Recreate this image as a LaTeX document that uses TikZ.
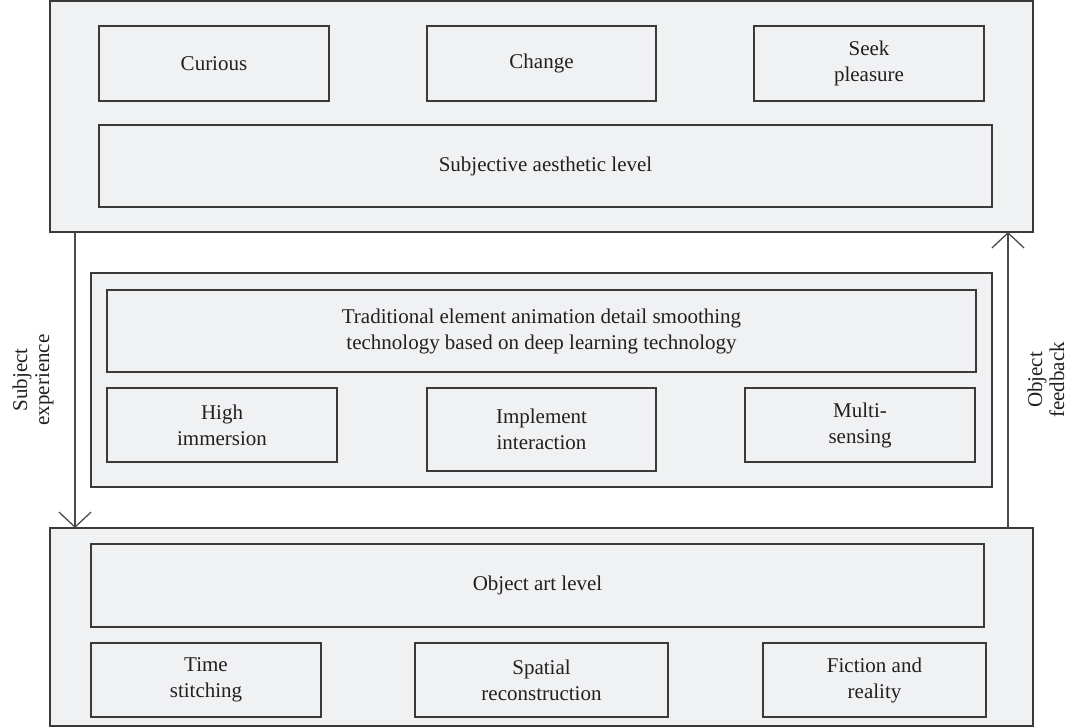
\documentclass[tikz,border=0pt]{standalone}
\usepackage{fontspec}
\setmainfont{Liberation Serif}
\usetikzlibrary{arrows.meta}
\definecolor{boxfill}{HTML}{F0F1F3}
\definecolor{edgecol}{HTML}{3A3A3A}
\definecolor{txtcol}{HTML}{231F20}
\definecolor{arrcol}{HTML}{4A4A4A}
\tikzset{
  panel/.style={draw=edgecol, fill=boxfill, line width=1.3pt, inner sep=0pt, outer sep=0pt},
  item/.style={panel, text=txtcol, align=center, font=\fontsize{21}{26}\selectfont},
  lbl/.style={text=txtcol, align=center, font=\fontsize{21}{22}\selectfont, inner sep=0pt},
  conn/.style={draw=arrcol, line width=1.3pt, -{Straight Barb[length=15pt, width=32pt, line width=1.3pt]}},
}
\begin{document}
\begin{tikzpicture}[x=1pt, y=-1pt]
\useasboundingbox (0,0) rectangle (1071,727);
% top panel
\node[panel, minimum width=983pt, minimum height=231pt] (topbox) at (541.5,116.5) {};
\node[item, minimum width=230pt, minimum height=75pt] (curious) at (214,63.5) {Curious};
\node[item, minimum width=229pt, minimum height=75pt] (change) at (541.5,63.5) {Change};
\node[item, minimum width=230pt, minimum height=75pt] (seek) at (869,63.5) {Seek\\pleasure};
\node[item, minimum width=893pt, minimum height=82pt] (subj) at (545.5,166) {Subjective aesthetic level};
% middle panel
\node[panel, minimum width=901pt, minimum height=214pt] (midbox) at (541.5,380) {};
\node[item, minimum width=869pt, minimum height=82pt] (trad) at (541.5,331) {Traditional element animation detail smoothing\\technology based on deep learning technology};
\node[item, minimum width=230pt, minimum height=74pt] (high) at (222,425) {High\\immersion};
\node[item, minimum width=229pt, minimum height=83pt] (impl) at (541.5,429.5) {Implement\\interaction};
\node[item, minimum width=230pt, minimum height=74pt] (multi) at (860,425) {Multi-\\sensing};
% bottom panel
\node[panel, minimum width=983pt, minimum height=198pt] (botbox) at (541.5,627) {};
\node[item, minimum width=893pt, minimum height=83pt] (objart) at (537.5,585.5) {Object art level};
\node[item, minimum width=230pt, minimum height=74pt] (time) at (206,680) {Time\\stitching};
\node[item, minimum width=253pt, minimum height=74pt] (spatial) at (541.5,680) {Spatial\\reconstruction};
\node[item, minimum width=223pt, minimum height=74pt] (fiction) at (874.5,680) {Fiction and\\reality};
% connectors
\draw[conn] ([xshift=25pt]topbox.south west) -- ([xshift=25pt]botbox.north west);
\draw[conn] ([xshift=-25pt]botbox.north east) -- ([xshift=-25pt]topbox.south east);
% side labels
\node[lbl, rotate=90] (subjexp) at (33,380) {Subject\\experience};
\node[lbl, rotate=90] (objfb) at (1046,380) {Object\\feedback};
\end{tikzpicture}
\end{document}
